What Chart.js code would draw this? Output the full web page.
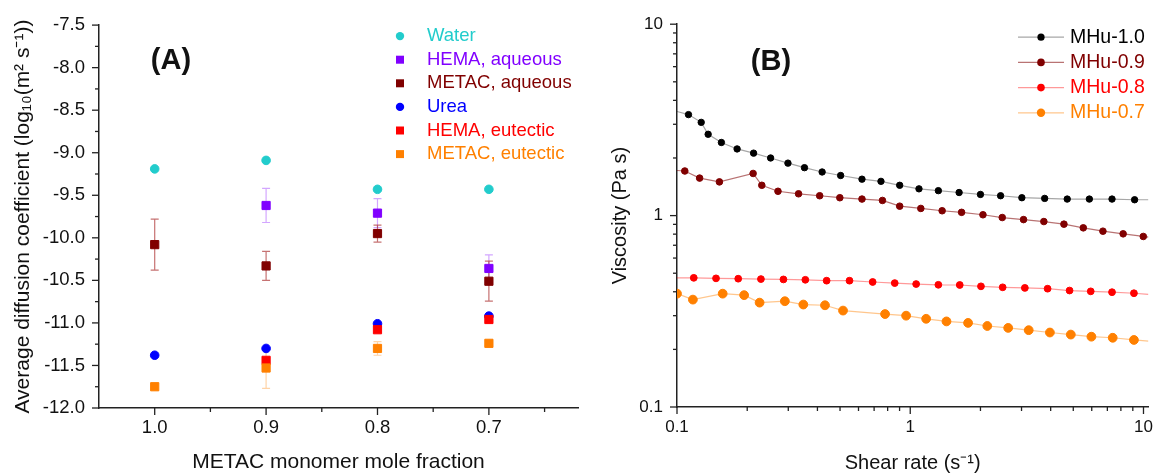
<!DOCTYPE html>
<html><head><meta charset="utf-8">
<script src="https://cdn.jsdelivr.net/npm/chart.js@4.4.1/dist/chart.umd.min.js"></script>
<style>
html,body{margin:0;padding:0;background:#fff;width:1163px;height:475px;overflow:hidden}
#ca{position:absolute;left:0;top:0}
#cb{position:absolute;left:590px;top:0}
</style></head><body>
<canvas id="ca" width="590" height="475"></canvas>
<canvas id="cb" width="573" height="475"></canvas>
<script>
// ---------- Panel A data ----------
const fractions = [1.0, 0.9, 0.8, 0.7];
const fractionLabels = ['1.0', '0.9', '0.8', '0.7'];
const fractionMinorTicks = [1.05, 0.95, 0.85, 0.75, 0.65];
const water      = [-9.19, -9.09, -9.43, -9.43];
const hemaAq     = [null, -9.62, -9.71, -10.36];
const hemaAqErr  = [null, 0.20, 0.17, 0.16];
const metacAq    = [-10.08, -10.33, -9.95, -10.51];
const metacAqErr = [0.30, 0.17, 0.10, 0.235];
const urea       = [-11.38, -11.30, -11.01, -10.92];
const hemaEu     = [null, -11.44, -11.08, -10.96];
const hemaEuErr  = [null, 0.03, 0.03, 0.03];
const metacEu    = [-11.75, -11.53, -11.30, -11.24];
const metacEuErr = [0, 0.24, 0.08, 0.03];
const yTicksA    = [-12.0, -11.5, -11.0, -10.5, -10.0, -9.5, -9.0, -8.5, -8.0, -7.5];
const yLabelsA   = ['-12.0', '-11.5', '-11.0', '-10.5', '-10.0', '-9.5', '-9.0', '-8.5', '-8.0', '-7.5'];

// ---------- Panel B data ----------
const shear10 = [0.112,0.127,0.136,0.155,0.181,0.213,0.252,0.299,0.352,0.419,0.503,0.621,0.749,0.901,1.09,1.32,1.62,2.00,2.44,3.01,3.77,4.71,5.86,7.33,9.16];
const visc10  = [3.37,3.07,2.66,2.41,2.23,2.12,2.00,1.88,1.78,1.69,1.62,1.55,1.51,1.44,1.38,1.35,1.32,1.29,1.27,1.24,1.23,1.22,1.22,1.22,1.21];
const shear09 = [0.108,0.125,0.152,0.212,0.231,0.271,0.332,0.409,0.499,0.621,0.760,0.901,1.11,1.37,1.66,2.05,2.48,3.06,3.74,4.56,5.52,6.70,8.18,9.98];
const visc09  = [1.71,1.57,1.50,1.66,1.44,1.34,1.30,1.27,1.24,1.22,1.20,1.12,1.09,1.06,1.04,1.01,0.977,0.953,0.931,0.902,0.863,0.829,0.803,0.778];
const shear08 = [0.118,0.147,0.183,0.229,0.286,0.355,0.438,0.549,0.690,0.858,1.06,1.32,1.63,2.01,2.49,3.10,3.88,4.82,5.94,7.33,9.10];
const visc08  = [0.473,0.470,0.468,0.466,0.464,0.462,0.457,0.457,0.450,0.444,0.439,0.435,0.434,0.427,0.422,0.419,0.415,0.406,0.402,0.398,0.393];
const shear07 = [0.100,0.117,0.157,0.194,0.226,0.290,0.348,0.431,0.515,0.780,0.960,1.17,1.43,1.77,2.14,2.63,3.22,3.97,4.88,5.98,7.38,9.10];
const visc07  = [0.391,0.364,0.391,0.384,0.351,0.357,0.343,0.340,0.319,0.306,0.300,0.289,0.280,0.275,0.265,0.259,0.252,0.245,0.239,0.233,0.230,0.224];
// viscosity where each fitted line meets the left (0.1) and right (axis end) edges
const lineStartVisc = [3.50, 1.72, 0.473, null];
const lineEndVisc   = [1.21, 0.772, 0.388, 0.221];
const decadeTicks  = [0.1, 1, 10];
const decadeLabels = ['0.1', '1', '10'];
const shearMax = 10.5;

const FONT = '"Liberation Sans", Arial, Helvetica, sans-serif';
Chart.defaults.font.family = FONT;
Chart.defaults.color = '#111';

// ---------- plugins ----------
const tickMarks = {
  id: 'tickMarks',
  afterDraw(chart) {
    const ctx = chart.ctx;
    ctx.save();
    ctx.strokeStyle = '#222';
    ctx.lineWidth = 1.3;
    Object.values(chart.scales).forEach(s => {
      s.ticks.forEach(t => {
        const p = s.getPixelForValue(t.value);
        const len = t.major ? 7 : 4;
        ctx.beginPath();
        if (s.isHorizontal()) {
          ctx.moveTo(p, s.top); ctx.lineTo(p, s.top + len);
        } else {
          ctx.moveTo(s.right, p); ctx.lineTo(s.right - len, p);
        }
        ctx.stroke();
      });
    });
    ctx.restore();
  }
};

const errorBars = {
  id: 'errorBars',
  beforeDatasetsDraw(chart) {
    const ctx = chart.ctx, xs = chart.scales.x, ys = chart.scales.y;
    ctx.save();
    chart.data.datasets.forEach(ds => {
      if (!ds.err) return;
      ctx.strokeStyle = ds.errColor;
      ctx.lineWidth = 1.2;
      ds.data.forEach((pt, i) => {
        const e = ds.err[i];
        if (pt.y == null || !e) return;
        const x = xs.getPixelForValue(pt.x);
        const y1 = ys.getPixelForValue(pt.y + e), y2 = ys.getPixelForValue(pt.y - e);
        ctx.beginPath();
        ctx.moveTo(x, y1); ctx.lineTo(x, y2);
        ctx.moveTo(x - 4, y1); ctx.lineTo(x + 4, y1);
        ctx.moveTo(x - 4, y2); ctx.lineTo(x + 4, y2);
        ctx.stroke();
      });
    });
    ctx.restore();
  }
};

const panelDecor = {
  id: 'panelDecor',
  afterDraw(chart, args, opts) {
    const ctx = chart.ctx, ca = chart.chartArea;
    ctx.save();
    ctx.font = 'bold 29px ' + FONT;
    ctx.fillStyle = '#111';
    ctx.textAlign = 'center';
    ctx.textBaseline = 'middle';
    ctx.fillText(opts.label, ca.left + opts.labelDx, ca.top + opts.labelDy);
    // legend
    ctx.font = opts.legendFont + 'px ' + FONT;
    ctx.textAlign = 'left';
    chart.data.datasets.forEach((ds, i) => {
      const y = ca.top + opts.legendTop + i * opts.legendStep;
      const mx = ca.left + opts.legendMarkerX;
      if (opts.legendLine) {
        ctx.strokeStyle = ds.borderColor;
        ctx.lineWidth = 1.2;
        ctx.beginPath();
        ctx.moveTo(mx - 23, y); ctx.lineTo(mx + 23, y);
        ctx.stroke();
      }
      ctx.fillStyle = ds.pointBackgroundColor;
      const r = ds.legendR;
      ctx.beginPath();
      if (ds.pointStyle === 'rect') ctx.rect(mx - r, y - r, 2 * r, 2 * r);
      else ctx.arc(mx, y, r, 0, Math.PI * 2);
      ctx.fill();
      ctx.fillStyle = ds.pointBackgroundColor;
      ctx.fillText(ds.label, ca.left + opts.legendTextX, y);
    });
    ctx.restore();
  }
};

// ---------- Panel A ----------
function seriesA(label, vals, color, style, err, errColor, idx) {
  return {
    label, pointStyle: style,
    data: fractions.map((f, i) => ({x: f, y: vals[i]})),
    pointBackgroundColor: color, pointBorderColor: color, borderColor: color,
    pointRadius: style === 'rect' ? 5.8 : 4.3, pointBorderWidth: 1,
    showLine: false, err, errColor, legendR: style === 'rect' ? 4 : 4.2,
    order: 10 - idx
  };
}
const dsA = [
  seriesA('Water', water, '#22cccc', 'circle', null, null, 0),
  seriesA('HEMA, aqueous', hemaAq, '#8000ff', 'rect', hemaAqErr, 'rgba(128,0,255,0.35)', 1),
  seriesA('METAC, aqueous', metacAq, '#800000', 'rect', metacAqErr, 'rgba(160,20,20,0.6)', 2),
  seriesA('Urea', urea, '#0000ff', 'circle', null, null, 3),
  seriesA('HEMA, eutectic', hemaEu, '#ff0000', 'rect', hemaEuErr, 'rgba(255,0,0,0.4)', 4),
  seriesA('METAC, eutectic', metacEu, '#ff8000', 'rect', metacEuErr, 'rgba(255,128,0,0.35)', 5)
];

const yTicksMinorA = yTicksA.slice(0, -1).map(v => v + 0.25);

new Chart(document.getElementById('ca'), {
  type: 'scatter',
  data: {datasets: dsA},
  options: {
    responsive: false, animation: false, devicePixelRatio: 1,
    layout: {padding: {left: 0, right: 12, top: 22, bottom: 0}},
    plugins: {legend: {display: false}, tooltip: {enabled: false},
      panelDecor: {label: '(A)', labelDx: 72, labelDy: 36, legendFont: 18.5,
        legendTop: 11, legendStep: 23.6, legendMarkerX: 301, legendTextX: 328, legendLine: false}},
    scales: {
      x: {
        type: 'linear', min: 0.62, max: 1.05, reverse: true,
        afterBuildTicks: s => {
          s.ticks = fractions.map(v => ({value: v, major: true}))
            .concat(fractionMinorTicks.filter(v => v > 0.62 && v < 1.05).map(v => ({value: v, major: false})));
        },
        ticks: {
          autoSkip: false, maxRotation: 0, padding: 9, color: '#111', font: {size: 18.5},
          callback: (v) => { const i = fractions.indexOf(v); return i >= 0 ? fractionLabels[i] : ''; }
        },
        grid: {display: false, drawTicks: false},
        border: {display: true, color: '#222', width: 1.5},
        title: {display: true, text: 'METAC monomer mole fraction', color: '#111',
          font: {size: 21}, padding: {top: 0, bottom: 0}},
        afterFit: s => { s.height = 67; }
      },
      y: {
        type: 'linear', min: -12, max: -7.5,
        afterBuildTicks: s => {
          s.ticks = yTicksA.map(v => ({value: v, major: true}))
            .concat(yTicksMinorA.map(v => ({value: v, major: false})));
        },
        ticks: {
          autoSkip: false, padding: 14, color: '#111', font: {size: 18.5},
          callback: (v) => { const i = yTicksA.indexOf(v); return i >= 0 ? yLabelsA[i] : ''; }
        },
        grid: {display: false, drawTicks: false},
        border: {display: true, color: '#222', width: 1.5},
        title: {display: true, text: 'Average diffusion coefficient (log\u2081\u2080(m\u00B2 s\u207B\u00B9))',
          color: '#111', font: {size: 21}, padding: {top: 11, bottom: 0}},
        afterFit: s => { s.width = 99; }
      }
    }
  },
  plugins: [errorBars, tickMarks, panelDecor]
});

// ---------- Panel B ----------
const seriesB = [
  {label: 'MHu-1.0', x: shear10, y: visc10, color: '#000000', line: 'rgba(0,0,0,0.35)', r: 3.2, lr: 3.6},
  {label: 'MHu-0.9', x: shear09, y: visc09, color: '#800000', line: 'rgba(128,0,0,0.55)', r: 3.3, lr: 3.8},
  {label: 'MHu-0.8', x: shear08, y: visc08, color: '#ff0000', line: 'rgba(255,0,0,0.4)', r: 3.4, lr: 3.8},
  {label: 'MHu-0.7', x: shear07, y: visc07, color: '#ff8000', line: 'rgba(255,128,0,0.45)', r: 4.4, lr: 4.2}
];
const dsB = seriesB.map((s, k) => {
  const pts = s.x.map((x, i) => ({x, y: s.y[i]}));
  if (lineStartVisc[k] != null) pts.unshift({x: decadeTicks[0], y: lineStartVisc[k], edge: true});
  if (lineEndVisc[k] != null) pts.push({x: shearMax, y: lineEndVisc[k], edge: true});
  return {
    label: s.label, data: pts, showLine: true, pointStyle: 'circle',
    borderColor: s.line, borderWidth: 1.2,
    pointBackgroundColor: s.color, pointBorderColor: s.color, pointBorderWidth: 1,
    pointRadius: ctx => (ctx.raw && ctx.raw.edge) ? 0 : s.r,
    legendR: s.lr, order: 10 - k
  };
});

function logTicks(min, max) {
  const out = [];
  for (let d = -1; d <= 1; d++) {
    for (let m = 1; m <= 9; m++) {
      const v = m * Math.pow(10, d);
      const isMajor = m === 1;
      const val = isMajor ? decadeTicks[d + 1] : v;
      if (val >= min - 1e-9 && val <= max + 1e-9) out.push({value: val, major: isMajor});
    }
  }
  return out;
}
function logLabel(v) { const i = decadeTicks.indexOf(v); return i >= 0 ? decadeLabels[i] : ''; }

new Chart(document.getElementById('cb'), {
  type: 'scatter',
  data: {datasets: dsB},
  options: {
    responsive: false, animation: false, devicePixelRatio: 1,
    layout: {padding: {left: 0, right: 5, top: 21, bottom: 0}},
    plugins: {legend: {display: false}, tooltip: {enabled: false},
      panelDecor: {label: '(B)', labelDx: 94, labelDy: 38, legendFont: 19.5,
        legendTop: 13, legendStep: 25.2, legendMarkerX: 364, legendTextX: 393, legendLine: true}},
    scales: {
      x: {
        type: 'logarithmic', min: 0.1, max: shearMax,
        afterBuildTicks: s => { s.ticks = logTicks(0.1, shearMax); },
        ticks: {autoSkip: false, maxRotation: 0, padding: 10, color: '#111', font: {size: 17}, callback: logLabel},
        grid: {display: false, drawTicks: false},
        border: {display: true, color: '#222', width: 1.5},
        title: {display: true, text: 'Shear rate (s\u207B\u00B9)', color: '#111', font: {size: 20}, padding: {top: 0, bottom: 0}},
        afterFit: s => { s.height = 68; }
      },
      y: {
        type: 'logarithmic', min: 0.1, max: 10,
        afterBuildTicks: s => { s.ticks = logTicks(0.1, 10); },
        ticks: {autoSkip: false, padding: 14, color: '#111', font: {size: 17}, callback: logLabel},
        grid: {display: false, drawTicks: false},
        border: {display: true, color: '#222', width: 1.5},
        title: {display: true, text: 'Viscosity (Pa s)', color: '#111', font: {size: 20}, padding: {top: 18, bottom: 0}},
        afterFit: s => { s.width = 87; }
      }
    }
  },
  plugins: [tickMarks, panelDecor]
});
</script>
</body></html>
